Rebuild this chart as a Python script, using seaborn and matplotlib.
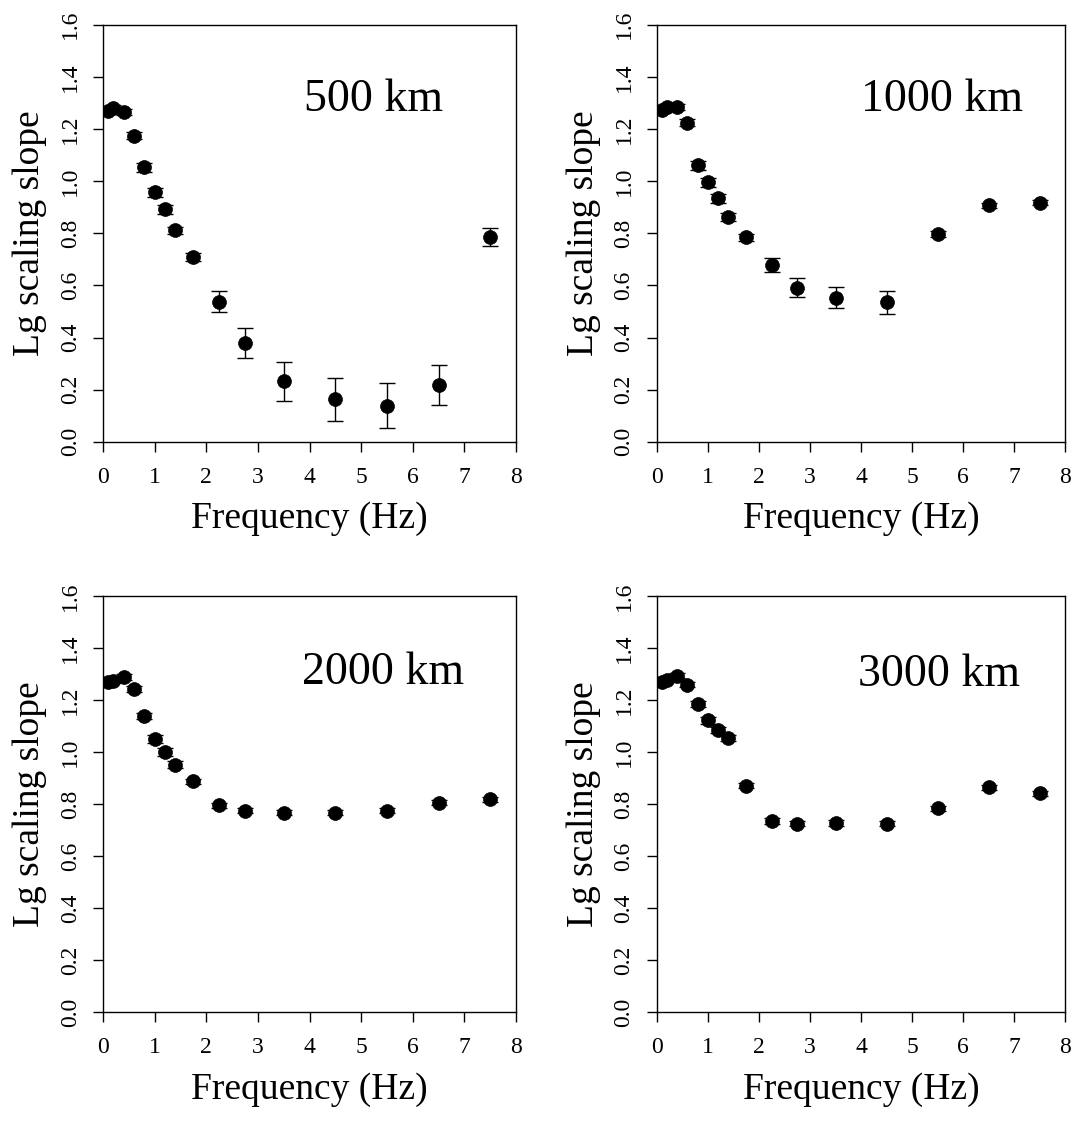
import numpy as np
import pandas as pd
import matplotlib
matplotlib.use("Agg")
import matplotlib.pyplot as plt
import seaborn as sns

# Frequencies shared by all four distance panels (Hz)
freq = [0.1, 0.2, 0.4, 0.6, 0.8, 1.0, 1.2, 1.4, 1.75, 2.25, 2.75, 3.5, 4.5, 5.5, 6.5, 7.5]

# Lg scaling slope and its standard error at each distance
slope_500 = [1.268, 1.281, 1.266, 1.175, 1.053, 0.957, 0.892, 0.812, 0.709,
             0.537, 0.380, 0.232, 0.163, 0.139, 0.219, 0.787]
err_500 = [0.012, 0.012, 0.012, 0.012, 0.018, 0.018, 0.017, 0.013, 0.015,
           0.040, 0.058, 0.075, 0.083, 0.085, 0.077, 0.035]

slope_1000 = [1.272, 1.284, 1.284, 1.225, 1.061, 0.996, 0.934, 0.862, 0.784,
              0.677, 0.591, 0.552, 0.535, 0.797, 0.907, 0.918]
err_1000 = [0.012, 0.012, 0.012, 0.012, 0.017, 0.017, 0.016, 0.014, 0.013,
            0.027, 0.036, 0.040, 0.045, 0.012, 0.010, 0.010]

slope_2000 = [1.270, 1.275, 1.289, 1.243, 1.140, 1.050, 1.000, 0.952, 0.888,
              0.796, 0.775, 0.767, 0.767, 0.775, 0.805, 0.818]
err_2000 = [0.010, 0.010, 0.010, 0.010, 0.012, 0.014, 0.014, 0.014, 0.010,
            0.010, 0.010, 0.010, 0.010, 0.010, 0.010, 0.010]

slope_3000 = [1.270, 1.278, 1.294, 1.260, 1.185, 1.122, 1.084, 1.053, 0.871,
              0.735, 0.724, 0.727, 0.724, 0.784, 0.865, 0.841]
err_3000 = [0.010, 0.010, 0.010, 0.010, 0.012, 0.012, 0.012, 0.012, 0.010,
            0.010, 0.010, 0.010, 0.010, 0.010, 0.010, 0.010]

distance_labels = ["500 km", "1000 km", "2000 km", "3000 km"]
x_ticks = [0, 1, 2, 3, 4, 5, 6, 7, 8]
y_ticks = [0.0, 0.2, 0.4, 0.6, 0.8, 1.0, 1.2, 1.4, 1.6]
y_tick_labels = ["0.0", "0.2", "0.4", "0.6", "0.8", "1.0", "1.2", "1.4", "1.6"]

sns.set_style("ticks")
plt.rcParams["font.family"] = ["Liberation Serif", "DejaVu Serif"]
plt.rcParams["text.color"] = "black"
plt.rcParams["axes.labelcolor"] = "black"
plt.rcParams["xtick.color"] = "black"
plt.rcParams["ytick.color"] = "black"

fig = plt.figure(figsize=(10.73, 11.27), dpi=100)

# axes rectangles in figure fractions: [left, bottom, width, height]
rects = [
    [0.096, 0.608, 0.385, 0.370],
    [0.612, 0.608, 0.381, 0.370],
    [0.096, 0.102, 0.385, 0.369],
    [0.612, 0.102, 0.381, 0.369],
]
label_pos = [(0.655, 0.82), (0.697, 0.82), (0.678, 0.817), (0.69, 0.81)]

series = [(slope_500, err_500), (slope_1000, err_1000),
          (slope_2000, err_2000), (slope_3000, err_3000)]

for rect, (vals, errs), name, pos in zip(rects, series, distance_labels, label_pos):
    ax = fig.add_axes(rect)
    df = pd.DataFrame({"freq": freq, "slope": vals, "err": errs})
    ax.errorbar(df["freq"], df["slope"], yerr=df["err"], fmt="none",
                ecolor="black", elinewidth=1.0, capsize=6, capthick=1.0, zorder=2)
    sns.scatterplot(data=df, x="freq", y="slope", ax=ax, color="black",
                    s=100, edgecolor="black", linewidth=0.5, zorder=3, legend=False)
    ax.set_xlim(0, 8)
    ax.set_ylim(0, 1.6)
    ax.set_xticks(x_ticks)
    ax.set_yticks(y_ticks)
    ax.set_yticklabels(y_tick_labels, rotation=90, va="center")
    ax.tick_params(axis="both", direction="out", length=7, width=1.0,
                   labelsize=17, color="black", labelcolor="black")
    ax.tick_params(axis="x", pad=11)
    ax.tick_params(axis="y", pad=9)
    for sp in ax.spines.values():
        sp.set_visible(True)
        sp.set_linewidth(1.0)
        sp.set_color("black")
    ax.set_xlabel("Frequency (Hz)", fontsize=27, labelpad=10)
    ax.set_ylabel("Lg scaling slope", fontsize=27, labelpad=9)
    ax.text(pos[0], pos[1], name, transform=ax.transAxes, fontsize=33,
            ha="center", va="center", color="black")

fig.savefig("out.png", dpi=100, facecolor="white")
